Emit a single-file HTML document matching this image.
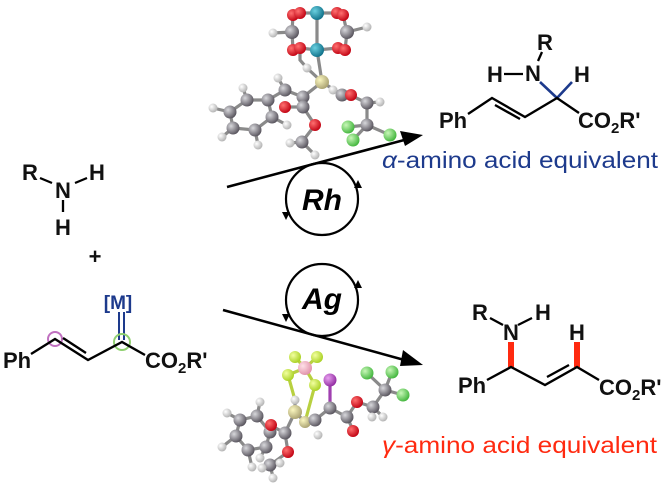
<!DOCTYPE html>
<html><head><meta charset="utf-8"><style>
html,body{margin:0;padding:0;background:#fff}
svg{display:block}
text{font-family:"Liberation Sans",Arial,sans-serif}
.b{font-weight:bold;font-size:22px;fill:#111}
</style></head><body>
<svg width="667" height="490" viewBox="0 0 667 490" xmlns="http://www.w3.org/2000/svg">
<defs>
<radialGradient id="gC" cx="35%" cy="35%" r="70%"><stop offset="0" stop-color="#d8d8dc"/><stop offset="1" stop-color="#55515a"/></radialGradient>
<radialGradient id="gH" cx="35%" cy="35%" r="70%"><stop offset="0" stop-color="#fff"/><stop offset="1" stop-color="#b0b0b0"/></radialGradient>
<radialGradient id="gO" cx="35%" cy="35%" r="70%"><stop offset="0" stop-color="#ff7070"/><stop offset="1" stop-color="#c00010"/></radialGradient>
<radialGradient id="gRh" cx="35%" cy="35%" r="70%"><stop offset="0" stop-color="#6ad0e0"/><stop offset="1" stop-color="#0e6f88"/></radialGradient>
<radialGradient id="gF" cx="35%" cy="35%" r="70%"><stop offset="0" stop-color="#c8f7b8"/><stop offset="1" stop-color="#3fb43a"/></radialGradient>
<radialGradient id="gY" cx="35%" cy="35%" r="70%"><stop offset="0" stop-color="#f2ffa0"/><stop offset="1" stop-color="#a8d020"/></radialGradient>
<radialGradient id="gB" cx="35%" cy="35%" r="70%"><stop offset="0" stop-color="#ffe0e8"/><stop offset="1" stop-color="#e090a8"/></radialGradient>
<radialGradient id="gP" cx="35%" cy="35%" r="70%"><stop offset="0" stop-color="#e8a0f0"/><stop offset="1" stop-color="#902aa0"/></radialGradient>
<radialGradient id="gN" cx="35%" cy="35%" r="70%"><stop offset="0" stop-color="#fbf7c0"/><stop offset="1" stop-color="#a8a070"/></radialGradient>
</defs>

<!-- ===== Top molecule (Rh) ===== -->
<g stroke="#8a8a8a" stroke-width="3.2" fill="none">
<path d="M317 13L317 50M293 15L292 32L293 50M343 15L347 32L345 50M300 13L317 13L337 13M300 48L317 50L338 48M273 33L292 32M347 32L367 27"/>
<path d="M317 50L322 82M300 50L300 60L307 68L322 82"/>
<path d="M247 100L268 100L272 117L255 130L233 128L230 112Z M247 100L243 88M230 112L213 108M233 128L222 137M255 130L258 145M272 117L287 125M268 100L285 90L278 78M285 90L303 97L322 82M303 97L303 107L285 107M303 107L315 125L302 142L290 143M302 142L315 155"/>
<path d="M322 82L342 95L350 95L367 103L380 102M342 95L333 90M367 103L367 125L348 127M367 125L353 140M367 125L390 135"/>
</g>
<g>
<circle cx="292" cy="32" r="7" fill="url(#gC)"/><circle cx="347" cy="32" r="7" fill="url(#gC)"/>
<circle cx="273" cy="33" r="4.5" fill="url(#gH)"/><circle cx="367" cy="27" r="4.5" fill="url(#gH)"/>
<circle cx="293" cy="15" r="6" fill="url(#gO)"/><circle cx="300" cy="13" r="6" fill="url(#gO)"/>
<circle cx="337" cy="13" r="6" fill="url(#gO)"/><circle cx="343" cy="15" r="6" fill="url(#gO)"/>
<circle cx="293" cy="50" r="6" fill="url(#gO)"/><circle cx="300" cy="48" r="6" fill="url(#gO)"/>
<circle cx="338" cy="48" r="6" fill="url(#gO)"/><circle cx="345" cy="50" r="6" fill="url(#gO)"/>
<circle cx="317" cy="13" r="7" fill="url(#gRh)"/><circle cx="317" cy="50" r="7" fill="url(#gRh)"/>
<circle cx="307" cy="68" r="4.5" fill="url(#gH)"/>
<circle cx="322" cy="82" r="7" fill="url(#gN)"/>
<circle cx="243" cy="88" r="4.5" fill="url(#gH)"/><circle cx="213" cy="108" r="4.5" fill="url(#gH)"/>
<circle cx="222" cy="137" r="4.5" fill="url(#gH)"/><circle cx="258" cy="145" r="4.5" fill="url(#gH)"/>
<circle cx="287" cy="125" r="4.5" fill="url(#gH)"/><circle cx="278" cy="78" r="4.5" fill="url(#gH)"/>
<circle cx="247" cy="100" r="6.5" fill="url(#gC)"/><circle cx="268" cy="100" r="6.5" fill="url(#gC)"/>
<circle cx="272" cy="117" r="6.5" fill="url(#gC)"/><circle cx="255" cy="130" r="6.5" fill="url(#gC)"/>
<circle cx="233" cy="128" r="6.5" fill="url(#gC)"/><circle cx="230" cy="112" r="6.5" fill="url(#gC)"/>
<circle cx="285" cy="90" r="6.5" fill="url(#gC)"/><circle cx="303" cy="97" r="6.5" fill="url(#gC)"/>
<circle cx="285" cy="107" r="6" fill="url(#gO)"/><circle cx="303" cy="107" r="6.5" fill="url(#gC)"/>
<circle cx="315" cy="125" r="6" fill="url(#gO)"/><circle cx="302" cy="142" r="6.5" fill="url(#gC)"/>
<circle cx="290" cy="143" r="4.5" fill="url(#gH)"/><circle cx="315" cy="155" r="4.5" fill="url(#gH)"/>
<circle cx="333" cy="90" r="4.5" fill="url(#gH)"/><circle cx="342" cy="95" r="6.5" fill="url(#gC)"/>
<circle cx="351" cy="95" r="6" fill="url(#gO)"/><circle cx="367" cy="103" r="6.5" fill="url(#gC)"/>
<circle cx="380" cy="102" r="4.5" fill="url(#gH)"/><circle cx="367" cy="125" r="6.5" fill="url(#gC)"/>
<circle cx="348" cy="127" r="6.5" fill="url(#gF)"/><circle cx="353" cy="140" r="6.5" fill="url(#gF)"/>
<circle cx="390" cy="135" r="6.5" fill="url(#gF)"/>
</g>

<!-- ===== Bottom molecule (Ag) ===== -->
<g stroke="#8a8a8a" stroke-width="3.2" fill="none">
<path d="M305 368L295 357M305 368L317 357M305 368L288 375M305 368L315 385M288 375L295 400M315 385L305 422" stroke="#b8d040"/>
<path d="M330 380L330 408" stroke="#a040b0"/>
<path d="M295 400L295 412L305 422L315 420L330 408L347 417L353 430M347 417L357 402L373 407L372 417M373 407L383 417M373 407L385 390L367 373M385 390L392 372M385 390L403 395"/>
<path d="M240 420L257 416L270 432L266 447L248 450L236 436Z M240 420L227 413M257 416L260 402M236 436L222 447M248 450L252 467M266 447L260 458M270 432L270 425L285 433L295 412M285 433L288 452L270 465L262 468M270 465L273 477M270 465L280 463"/>
</g>
<g>
<circle cx="295" cy="357" r="6" fill="url(#gY)"/><circle cx="317" cy="357" r="6" fill="url(#gY)"/>
<circle cx="288" cy="375" r="6" fill="url(#gY)"/><circle cx="315" cy="385" r="6" fill="url(#gY)"/>
<circle cx="305" cy="368" r="7" fill="url(#gB)"/>
<circle cx="330" cy="380" r="6.5" fill="url(#gP)"/>
<circle cx="295" cy="400" r="4.5" fill="url(#gH)"/>
<circle cx="295" cy="412" r="7" fill="url(#gN)"/><circle cx="305" cy="422" r="6" fill="url(#gN)"/>
<circle cx="315" cy="420" r="6.5" fill="url(#gC)"/><circle cx="318" cy="435" r="4.5" fill="url(#gH)"/>
<circle cx="330" cy="408" r="6.5" fill="url(#gC)"/><circle cx="347" cy="417" r="6.5" fill="url(#gC)"/>
<circle cx="353" cy="431" r="6" fill="url(#gO)"/><circle cx="357" cy="402" r="6" fill="url(#gO)"/>
<circle cx="373" cy="407" r="6.5" fill="url(#gC)"/><circle cx="372" cy="417" r="4.5" fill="url(#gH)"/>
<circle cx="383" cy="417" r="4.5" fill="url(#gH)"/><circle cx="385" cy="390" r="6.5" fill="url(#gC)"/>
<circle cx="367" cy="373" r="6.5" fill="url(#gF)"/><circle cx="392" cy="372" r="6.5" fill="url(#gF)"/>
<circle cx="403" cy="395" r="6.5" fill="url(#gF)"/>
<circle cx="227" cy="413" r="4.5" fill="url(#gH)"/><circle cx="260" cy="402" r="4.5" fill="url(#gH)"/>
<circle cx="222" cy="447" r="4.5" fill="url(#gH)"/><circle cx="252" cy="467" r="4.5" fill="url(#gH)"/>
<circle cx="260" cy="458" r="4.5" fill="url(#gH)"/>
<circle cx="240" cy="420" r="6.5" fill="url(#gC)"/><circle cx="257" cy="416" r="6.5" fill="url(#gC)"/>
<circle cx="236" cy="436" r="6.5" fill="url(#gC)"/><circle cx="248" cy="450" r="6.5" fill="url(#gC)"/>
<circle cx="266" cy="447" r="6.5" fill="url(#gC)"/><circle cx="270" cy="432" r="6.5" fill="url(#gC)"/>
<circle cx="271" cy="425" r="6" fill="url(#gO)"/><circle cx="285" cy="433" r="6.5" fill="url(#gC)"/>
<circle cx="288" cy="452" r="6" fill="url(#gO)"/><circle cx="270" cy="465" r="6.5" fill="url(#gC)"/>
<circle cx="262" cy="468" r="4.5" fill="url(#gH)"/><circle cx="273" cy="478" r="4.5" fill="url(#gH)"/>
<circle cx="280" cy="463" r="4.5" fill="url(#gH)"/>
</g>

<!-- ===== Arrows ===== -->
<g stroke="#000" stroke-width="2.6" fill="none">
<line x1="227" y1="187" x2="408" y2="139"/>
<line x1="223" y1="310" x2="408" y2="361"/>
</g>
<polygon points="423,135 400,131 405,146" fill="#000"/>
<polygon points="423,365 403,350 400,366" fill="#000"/>

<!-- catalytic cycles -->
<g stroke="#000" stroke-width="2.2" fill="none">
<circle cx="322" cy="199" r="36"/>
<circle cx="322" cy="300" r="36"/>
</g>
<g fill="#000">
<polygon points="358,180 354,188 362,188"/>
<polygon points="286,220 282,212 290,212"/>
<polygon points="358,280 354,288 362,288"/>
<polygon points="286,322 282,314 290,314"/>
</g>
<text x="322" y="210" font-size="30" font-weight="bold" font-style="italic" text-anchor="middle" fill="#000">Rh</text>
<text x="322" y="309" font-size="30" font-weight="bold" font-style="italic" text-anchor="middle" fill="#000">Ag</text>

<!-- ===== Amine ===== -->
<text class="b" x="30" y="180" text-anchor="middle">R</text>
<text class="b" x="63" y="198" text-anchor="middle">N</text>
<text class="b" x="97" y="180" text-anchor="middle">H</text>
<text class="b" x="63" y="235" text-anchor="middle">H</text>
<g stroke="#000" stroke-width="2.3"><line x1="40" y1="178" x2="52" y2="183"/><line x1="75" y1="183" x2="87" y2="178"/><line x1="63" y1="200" x2="63" y2="212"/></g>
<text class="b" x="95" y="264" text-anchor="middle" font-size="20">+</text>

<!-- ===== Carbene substrate ===== -->
<text x="118" y="309" font-size="19" font-weight="bold" fill="#1d3a8c" text-anchor="middle">[M]</text>
<g stroke="#1d3a8c" stroke-width="2"><line x1="119" y1="312" x2="119" y2="340"/><line x1="124" y1="312" x2="124" y2="340"/></g>
<circle cx="55" cy="339" r="7" fill="none" stroke="#c070c0" stroke-width="2"/>
<circle cx="122" cy="342" r="8" fill="none" stroke="#90d070" stroke-width="2"/>
<g stroke="#000" stroke-width="2.4" fill="none"><path d="M31 354L55 339L88 360L122 342L145 355"/><line x1="63" y1="338" x2="86" y2="353"/></g>
<text class="b" x="3" y="368">Ph</text>
<text class="b" x="145" y="368">CO<tspan font-size="15" dy="5">2</tspan><tspan dy="-5">R'</tspan></text>

<!-- ===== Top product ===== -->
<text class="b" x="545" y="50" text-anchor="middle">R</text>
<line x1="542" y1="52" x2="538" y2="61" stroke="#000" stroke-width="2.3"/>
<text class="b" x="533" y="81" text-anchor="middle">N</text>
<text class="b" x="495" y="82" text-anchor="middle">H</text>
<line x1="504" y1="74" x2="523" y2="74" stroke="#000" stroke-width="2.3"/>
<text class="b" x="582" y="82" text-anchor="middle">H</text>
<g stroke="#1d3a8c" stroke-width="2.6" fill="none"><path d="M540 82L557 98L572 82"/></g>
<g stroke="#000" stroke-width="2.4" fill="none"><path d="M468 114L492 98L525 117L557 98L579 113"/><line x1="495" y1="105" x2="520" y2="119"/></g>
<text class="b" x="439" y="128">Ph</text>
<text class="b" x="578" y="128">CO<tspan font-size="15" dy="5">2</tspan><tspan dy="-5">R'</tspan></text>
<text x="382" y="168" font-size="23.5" fill="#1d3a8c" textLength="276" lengthAdjust="spacingAndGlyphs"><tspan font-style="italic">α</tspan>-amino acid equivalent</text>

<!-- ===== Bottom product ===== -->
<text class="b" x="480" y="320" text-anchor="middle">R</text>
<line x1="490" y1="318" x2="503" y2="325" stroke="#000" stroke-width="2.3"/>
<text class="b" x="511" y="340" text-anchor="middle">N</text>
<line x1="518" y1="325" x2="532" y2="318" stroke="#000" stroke-width="2.3"/>
<text class="b" x="543" y="320" text-anchor="middle">H</text>
<text class="b" x="577" y="340" text-anchor="middle">H</text>
<g stroke="#ff2a10" stroke-width="6"><line x1="511" y1="342" x2="511" y2="367"/><line x1="577" y1="342" x2="577" y2="367"/></g>
<g stroke="#000" stroke-width="2.4" fill="none"><path d="M487 380L511 367L545 385L577 367L599 380"/><line x1="547" y1="377" x2="569" y2="365"/></g>
<text class="b" x="458" y="393">Ph</text>
<text class="b" x="599" y="395">CO<tspan font-size="15" dy="5">2</tspan><tspan dy="-5">R'</tspan></text>
<text x="382" y="453" font-size="23.5" fill="#ff2a10" textLength="275" lengthAdjust="spacingAndGlyphs"><tspan font-style="italic">γ</tspan>-amino acid equivalent</text>
</svg>
</body></html>
